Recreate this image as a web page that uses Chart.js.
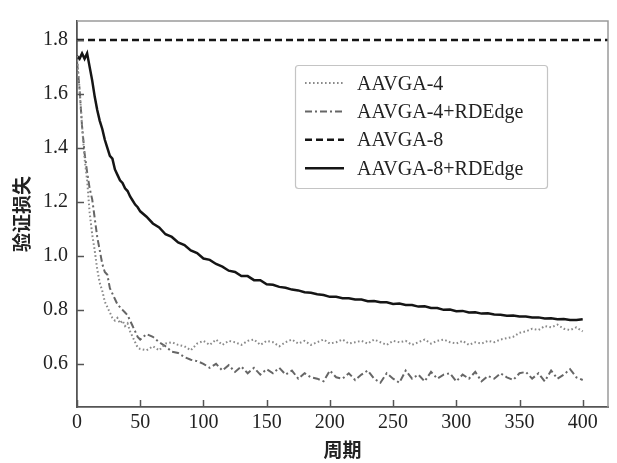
<!DOCTYPE html>
<html>
<head>
<meta charset="utf-8">
<script src="https://cdn.jsdelivr.net/npm/chart.js@4/dist/chart.umd.min.js"></script>
<style>
  html,body{margin:0;padding:0;background:#fff;}
  canvas{display:block;}
</style>
</head>
<body>
<canvas id="c" width="617" height="463"></canvas>
<script>
// ---- data ----
const epochs = [0,2,4,6,8,10,12,14,16,18,20,22,24,26,28,30,32,34,36,38,40,42,44,46,48,50,
  55,60,65,70,75,80,85,90,95,100,105,110,115,120,125,130,135,140,145,150,155,160,165,170,175,180,185,190,195,200,
  205,210,215,220,225,230,235,240,245,250,255,260,265,270,275,280,285,290,295,300,305,310,315,320,325,330,335,340,345,350,
  355,360,365,370,375,380,385,390,395,400];

const aavga4 = [1.74,1.62,1.48,1.36,1.28,1.16,1.08,1.02,0.95,0.90,0.87,0.83,0.81,0.79,0.77,0.76,0.77,0.75,0.76,0.74,0.75,0.72,0.70,0.68,0.66,0.655,
  0.65,0.665,0.65,0.675,0.68,0.67,0.665,0.65,0.675,0.685,0.67,0.69,0.67,0.685,0.68,0.67,0.685,0.69,0.67,0.685,0.68,0.665,0.68,0.69,0.675,0.685,0.67,0.68,0.69,0.675,
  0.68,0.69,0.675,0.68,0.685,0.675,0.69,0.68,0.67,0.685,0.68,0.685,0.67,0.68,0.69,0.675,0.685,0.69,0.68,0.675,0.685,0.67,0.68,0.675,0.685,0.68,0.69,0.695,0.70,0.715,
  0.72,0.73,0.725,0.74,0.735,0.745,0.73,0.725,0.735,0.72];

const aavga4rd = [1.72,1.62,1.48,1.38,1.31,1.25,1.21,1.14,1.07,1.02,0.97,0.94,0.93,0.88,0.86,0.84,0.82,0.81,0.80,0.79,0.78,0.76,0.74,0.72,0.70,0.69,
  0.71,0.70,0.68,0.665,0.645,0.64,0.625,0.615,0.61,0.60,0.585,0.60,0.575,0.595,0.57,0.59,0.565,0.585,0.56,0.58,0.565,0.585,0.56,0.575,0.545,0.565,0.55,0.545,0.535,0.575,
  0.55,0.545,0.565,0.54,0.56,0.575,0.545,0.53,0.565,0.545,0.53,0.575,0.545,0.56,0.535,0.57,0.545,0.56,0.565,0.535,0.56,0.545,0.57,0.535,0.555,0.545,0.565,0.55,0.54,0.565,
  0.57,0.545,0.565,0.535,0.575,0.545,0.56,0.58,0.55,0.54];

const epochs8 = [0,420];
const aavga8 = [1.8,1.8];

const aavga8rd = [1.74,1.73,1.75,1.73,1.75,1.70,1.65,1.59,1.54,1.50,1.47,1.43,1.40,1.37,1.36,1.32,1.30,1.28,1.27,1.25,1.24,1.22,1.205,1.19,1.18,1.165,
  1.145,1.12,1.105,1.08,1.07,1.05,1.04,1.02,1.01,0.99,0.985,0.97,0.96,0.945,0.94,0.925,0.925,0.91,0.91,0.895,0.893,0.885,0.882,0.875,0.872,0.865,0.863,0.858,0.855,0.848,
  0.848,0.843,0.843,0.838,0.838,0.832,0.833,0.828,0.828,0.822,0.823,0.818,0.818,0.812,0.813,0.807,0.807,0.80,0.801,0.795,0.796,0.79,0.791,0.786,0.787,0.783,0.782,0.778,0.779,0.775,
  0.775,0.772,0.772,0.768,0.769,0.765,0.766,0.762,0.762,0.765];

const xTicks = [0,50,100,150,200,250,300,350,400];
const yTicks = [0.6,0.8,1.0,1.2,1.4,1.6,1.8];
const seriesNames = ['AAVGA-4','AAVGA-4+RDEdge','AAVGA-8','AAVGA-8+RDEdge'];
const xTitle = '周期';
const yTitle = '验证损失';

// ---- build ----
const pts = (xs, ys) => ys.map((v,i)=>({x:xs[i], y:v}));
const serif = "'Liberation Serif','DejaVu Serif',serif";

const styles = [
  {color:'#8a8a8a', width:2, dash:[1.6,2.4]},
  {color:'#666666', width:2, dash:[7,3,2,3]},
  {color:'#151515', width:2.5, dash:[7,4]},
  {color:'#151515', width:2.5, dash:[]}
];

const datasets = [
  {label:seriesNames[0], data:pts(epochs,aavga4)},
  {label:seriesNames[1], data:pts(epochs,aavga4rd)},
  {label:seriesNames[2], data:pts(epochs8,aavga8)},
  {label:seriesNames[3], data:pts(epochs,aavga8rd)}
].map((d,i)=>Object.assign(d,{
  borderColor:styles[i].color, borderWidth:styles[i].width, borderDash:styles[i].dash,
  pointRadius:0, tension:0, fill:false
}));

const framePlugin = {
  id:'frame',
  afterDraw(chart){
    const {ctx, chartArea:a, scales:{x,y}} = chart;
    ctx.save();
    ctx.strokeStyle='#9a9a9a'; ctx.lineWidth=1.5; ctx.setLineDash([]);
    ctx.beginPath(); ctx.moveTo(a.left,a.top); ctx.lineTo(a.right,a.top); ctx.lineTo(a.right,a.bottom); ctx.stroke();
    ctx.strokeStyle='#555'; ctx.lineWidth=1.5;
    x.ticks.forEach(t=>{const px=Math.round(x.getPixelForValue(t.value))+0.5; ctx.beginPath(); ctx.moveTo(px,a.bottom); ctx.lineTo(px,a.bottom-7); ctx.stroke();});
    y.ticks.forEach(t=>{const py=Math.round(y.getPixelForValue(t.value))+0.5; ctx.beginPath(); ctx.moveTo(a.left,py); ctx.lineTo(a.left+7,py); ctx.stroke();});
    // legend
    const bx=295, by=65, bw=252, bh=123;
    ctx.strokeStyle='#c4c4c4'; ctx.lineWidth=1.2;
    ctx.beginPath(); ctx.roundRect(bx+0.5,by+0.5,bw,bh,3); ctx.stroke();
    ctx.font = "20px " + serif;
    ctx.textBaseline='alphabetic';
    chart.data.datasets.forEach((d,i)=>{
      const cy = 83 + i*28.4;
      ctx.strokeStyle=d.borderColor; ctx.lineWidth=d.borderWidth; ctx.setLineDash(d.borderDash);
      ctx.beginPath(); ctx.moveTo(305,cy); ctx.lineTo(344,cy); ctx.stroke();
      ctx.setLineDash([]);
      ctx.fillStyle='#222';
      ctx.fillText(d.label, 357, cy+6.5);
    });
    ctx.restore();
  }
};

new Chart(document.getElementById('c'), {
  type:'line',
  data:{datasets},
  options:{
    responsive:false, animation:false, devicePixelRatio:1,
    layout:{padding:{top:6,right:9,left:0,bottom:0}},
    plugins:{legend:{display:false}, tooltip:{enabled:false}},
    scales:{
      x:{
        type:'linear', min:0, max:420,
        afterBuildTicks:s=>{s.ticks = xTicks.map(v=>({value:v}));},
        afterFit:s=>{s.height=56;},
        grid:{display:false, drawTicks:false},
        border:{display:true, color:'#555', width:1.8},
        ticks:{padding:4, color:'#222', font:{family:serif, size:20}, maxRotation:0, autoSkip:false, callback:v=>String(v)},
        title:{display:true, text:xTitle, align:'center', color:'#222', font:{family:"'Noto Sans CJK SC'", size:19, weight:'bold'}, padding:{top:0,bottom:2}}
      },
      y:{
        type:'linear', min:0.44, max:1.87,
        afterBuildTicks:s=>{s.ticks = yTicks.map(v=>({value:v}));},
        afterFit:s=>{s.width=77;},
        grid:{display:false, drawTicks:false},
        border:{display:true, color:'#555', width:1.8},
        ticks:{padding:9, color:'#222', font:{family:serif, size:20}, autoSkip:false, callback:v=>Number(v).toFixed(1)},
        title:{display:true, text:yTitle, color:'#222', font:{family:"'Noto Sans CJK SC'", size:19, weight:'bold'}, padding:{top:10,bottom:0}}
      }
    }
  },
  plugins:[framePlugin]
});
</script>
</body>
</html>
